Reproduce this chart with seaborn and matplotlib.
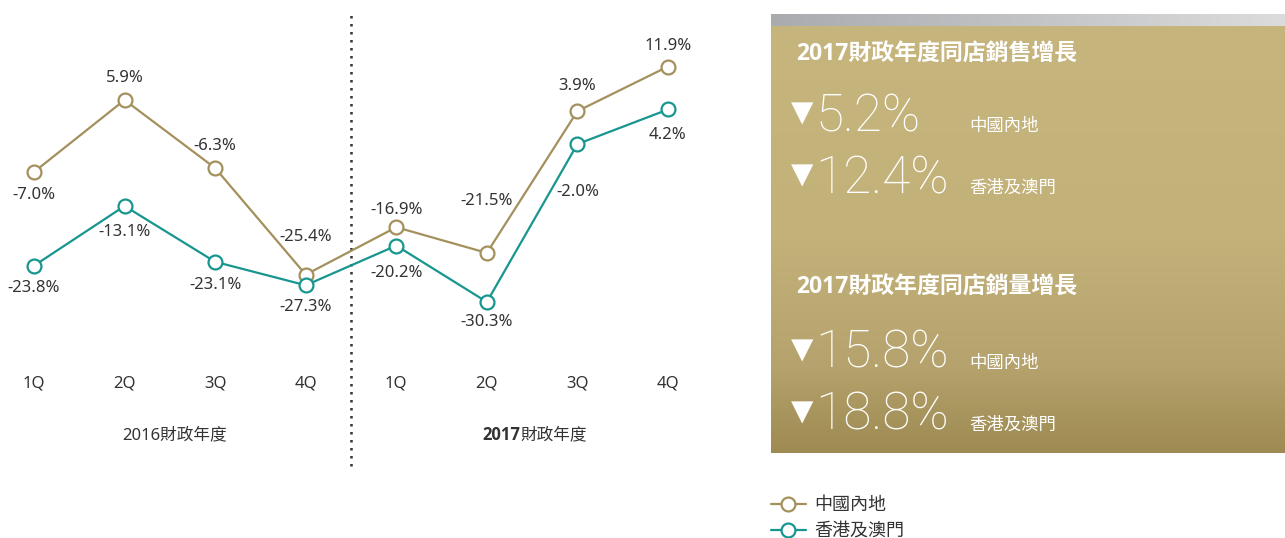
import numpy as np
import pandas as pd
import matplotlib
matplotlib.use("Agg")
import matplotlib.pyplot as plt
import matplotlib.transforms as mtransforms
from matplotlib.colors import LinearSegmentedColormap
import seaborn as sns

# quarterly same-store sales growth (%)
quarters = ["1Q", "2Q", "3Q", "4Q", "1Q", "2Q", "3Q", "4Q"]
years = ["2016財政年度", "2017財政年度"]
mainland = [-7.0, 5.9, -6.3, -25.4, -16.9, -21.5, 3.9, 11.9]
hk_macau = [-23.8, -13.1, -23.1, -27.3, -20.2, -30.3, -2.0, 4.2]
series_names = ["中國內地", "香港及澳門"]

# summary panel figures
panel_titles = ["2017財政年度同店銷售增長", "2017財政年度同店銷量增長"]
panel_values = ["5.2%", "12.4%", "15.8%", "18.8%"]
panel_regions = ["中國內地", "香港及澳門", "中國內地", "香港及澳門"]

GOLD = "#a3905c"
TEAL = "#17968f"
TEXT = "#333333"
BOLD_FONT = ["Open Sans", "Noto Sans CJK TC", "DejaVu Sans"]

sns.set_theme(style="white")
plt.rcParams["font.family"] = ["Noto Sans", "Noto Sans CJK TC", "DejaVu Sans"]

W, H = 1285, 538
fig = plt.figure(figsize=(W / 100, H / 100), dpi=100)


def fx(x):
    return x / W


def fy(y):
    return 1 - y / H


# ---- line chart ----
ax = fig.add_axes([0, 0, 720 / W, 1])
px_per_unit = 90.57
px_per_pct = 5.58
ax.set_xlim(-34 / px_per_unit, 720 / px_per_unit - 34 / px_per_unit)
ax.set_ylim(5.9 - (H - 100) / px_per_pct, 5.9 + 100 / px_per_pct)
ax.axis("off")

df = pd.DataFrame({
    "idx": list(range(8)) * 2,
    "value": mainland + hk_macau,
    "region": [series_names[0]] * 8 + [series_names[1]] * 8,
})

for name, color in zip(series_names, [GOLD, TEAL]):
    sns.lineplot(data=df[df["region"] == name], x="idx", y="value", ax=ax,
                 color=color, linewidth=1.6, marker="o", markersize=10,
                 markerfacecolor="white", markeredgecolor=color,
                 markeredgewidth=1.6, label=name, zorder=3)

gold_off = [-23, 22, 22, 38, 17, 52, 25, 21]
teal_off = [-22, -26, -23, -22, -27, -20, -48, -26]
for vals, offs in [(mainland, gold_off), (hk_macau, teal_off)]:
    for i, (v, o) in enumerate(zip(vals, offs)):
        ax.annotate(f"{v:.1f}%", (i, v), xytext=(0, o), textcoords="offset pixels",
                    ha="center", va="center", fontsize=12, color=TEXT)

ax.axvline(3.5, ymin=(H - 466) / H, ymax=(H - 12) / H, color="#333333",
           linestyle=(0, (1, 2.2)), linewidth=1.8)

trans = mtransforms.blended_transform_factory(ax.transData, ax.transAxes)
for i, q in enumerate(quarters):
    ax.text(i, fy(383), q, transform=trans, ha="center", va="center",
            fontsize=12, color=TEXT)
ax.text(1.55, fy(435), years[0], transform=trans, ha="center", va="center",
        fontsize=12, color=TEXT)
ax.text(5.37, fy(435), years[1][:4], transform=trans, ha="right", va="center",
        fontsize=12, color=TEXT, fontweight="bold", family=BOLD_FONT)
ax.text(5.37, fy(435), years[1][4:], transform=trans, ha="left", va="center",
        fontsize=12, color=TEXT)

handles, labels = ax.get_legend_handles_labels()
ax.get_legend().remove()
fig.legend(handles, labels, loc="upper left", bbox_to_anchor=(fx(764), fy(489)),
           frameon=False, fontsize=13, handlelength=1.9, handletextpad=0.5,
           labelspacing=0.45, borderaxespad=0, labelcolor=TEXT)

# ---- summary panel ----
bar = fig.add_axes([fx(771), fy(26), (W - 771) / W, 12 / H])
bar.imshow(np.linspace(0, 1, 256).reshape(1, -1), aspect="auto",
           cmap=LinearSegmentedColormap.from_list("g", ["#a9abaf", "#dcdcdc"]))
bar.axis("off")

panel = fig.add_axes([fx(771), fy(453), (W - 771) / W, (453 - 26) / H])
panel.imshow(np.linspace(0, 1, 256).reshape(-1, 1), aspect="auto",
             cmap=LinearSegmentedColormap.from_list(
                 "p", [(0, "#c7b57e"), (0.5, "#c3b17a"), (0.8, "#b5a26c"), (1, "#9e8a52")]))
panel.axis("off")

for t, y in zip(panel_titles, [55, 288]):
    fig.text(fx(796), fy(y), t, ha="left", va="center", color="white",
             fontsize=16.5, fontweight="bold", family=BOLD_FONT)

rows_y = [131, 193, 368, 430]
for v, r, y in zip(panel_values, panel_regions, rows_y):
    fig.text(fx(791), fy(y - 18), "▼", ha="left", va="center", color="white",
             fontsize=21, family="DejaVu Sans")
    fig.text(fx(815), fy(y), v, ha="left", va="baseline", color="white",
             fontsize=37, fontweight="light", family=["Roboto", "DejaVu Sans"])
    fig.text(fx(969), fy(y), r, ha="left", va="baseline", color="white",
             fontsize=12.5)

fig.savefig("out.png", dpi=100)
